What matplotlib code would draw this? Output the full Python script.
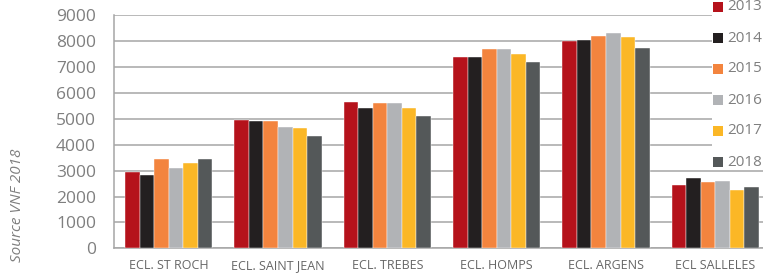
import matplotlib
matplotlib.use("Agg")
import matplotlib.pyplot as plt
import numpy as np
from matplotlib.patches import Rectangle

# Data
ecluses = ["ECL. ST ROCH", "ECL. SAINT JEAN", "ECL. TREBES", "ECL. HOMPS", "ECL. ARGENS", "ECL SALLELES"]
years = ["2013", "2014", "2015", "2016", "2017", "2018"]
v2013 = [2960, 4955, 5640, 7380, 7995, 2445]
v2014 = [2845, 4915, 5430, 7380, 8035, 2705]
v2015 = [3440, 4905, 5600, 7700, 8200, 2560]
v2016 = [3115, 4685, 5595, 7690, 8305, 2590]
v2017 = [3285, 4650, 5405, 7505, 8160, 2250]
v2018 = [3445, 4325, 5120, 7195, 7740, 2355]
series = [v2013, v2014, v2015, v2016, v2017, v2018]
colors = ["#B5121B", "#231F20", "#F3843E", "#B1B3B6", "#FBB726", "#545859"]

plt.rcParams['font.family'] = ['Open Sans', 'DejaVu Sans']
W, H = 763, 277
fig = plt.figure(figsize=(W / 100, H / 100), dpi=100)
ax = fig.add_axes([114 / W, (H - 248.3) / H, (770 - 114) / W, 233 / H])

x = np.arange(len(ecluses))
bw = 0.133
for i, (vals, c) in enumerate(zip(series, colors)):
    ax.bar(x + (i - 2.5) * bw, vals, bw, color=c, edgecolor="white", linewidth=0.3,
           label=years[i], zorder=3)

ax.set_xlim(-0.5, len(ecluses) - 0.5)
ax.set_ylim(0, 9000)
ax.set_yticks(range(0, 9001, 1000))
ax.yaxis.grid(True, color="#A6A6A6", linewidth=1.1, zorder=0)
ax.set_axisbelow(True)
ax.set_xticks(x)
ax.set_xticklabels(ecluses, fontsize=9, color="#666666")
ax.tick_params(axis="y", length=0, pad=13, labelsize=12.5, labelcolor="#7F7F7F")
ax.tick_params(axis="x", length=0, pad=8)
for s in ["top", "right"]:
    ax.spines[s].set_visible(False)
ax.spines["left"].set_color("#A6A6A6")
ax.spines["bottom"].set_color("#A6A6A6")
ax.spines["left"].set_linewidth(1.1)
ax.spines["bottom"].set_linewidth(1.1)

# Legend box at the right edge
fig.add_artist(Rectangle((712 / W, (H - 168) / H), 60 / W, 168 / H,
                         transform=fig.transFigure, facecolor="white", edgecolor="none", zorder=5))
for i, (yr, c) in enumerate(zip(years, colors)):
    yc = 7 + i * 31
    fig.add_artist(Rectangle((713 / W, (H - yc - 5) / H), 10 / W, 10 / H,
                             transform=fig.transFigure, facecolor=c, edgecolor="none", zorder=6))
    fig.text(727 / W, (H - yc) / H, yr, fontsize=11, color="#7F7F7F",
             va="center", ha="left", zorder=6)

fig.text(18 / W, (H - 205) / H, "Source VNF 2018", rotation=90, style="italic",
         fontsize=11, color="#7F7F7F", ha="center", va="center")

fig.savefig("out.png", dpi=100)
